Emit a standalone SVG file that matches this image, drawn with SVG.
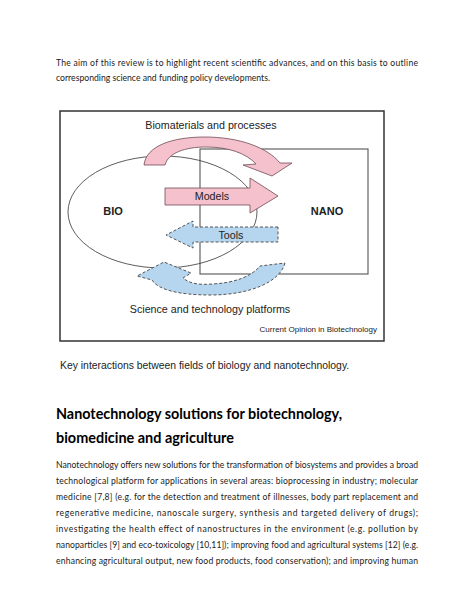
<svg xmlns="http://www.w3.org/2000/svg" width="474" height="613" viewBox="0 0 474 613">
<style>
.doc{font-family:Lato,"Open Sans","Liberation Sans",sans-serif;fill:#1a1a1a;font-size:8.6px}
.hd{font-family:Lato,"Open Sans","Liberation Sans",sans-serif;font-weight:bold;fill:#000;font-size:14.5px}
.fig{font-family:"Liberation Sans",Arial,sans-serif;fill:#222}
.lbl{font-size:10.7px}
.node{font-size:11px;font-weight:bold}
.pink{fill:#f4c1cc;stroke:#6e4b55;stroke-width:0.8}
.blue{fill:#b6d5ee;stroke:#555;stroke-width:1;stroke-dasharray:3 2}
</style>
<rect width="474" height="613" fill="#fff"/>
<g id="intro">
<text class="doc" x="56" y="65.5" textLength="362" lengthAdjust="spacing">The aim of this review is to highlight recent scientific advances, and on this basis to outline</text>
<text class="doc" x="56" y="81" textLength="214" lengthAdjust="spacingAndGlyphs">corresponding science and funding policy developments.</text>
</g>
<g id="frame">
<rect x="60" y="111" width="324" height="230" fill="none" stroke="#333" stroke-width="1.5"/>
</g>
<g id="nano">
<rect x="200" y="149" width="168" height="125" fill="none" stroke="#555" stroke-width="1.1"/>
<text class="fig node" x="327" y="215" text-anchor="middle">NANO</text>
</g>
<g id="bio">
<ellipse cx="162.5" cy="212" rx="94.5" ry="56" fill="none" stroke="#333" stroke-width="0.8"/>
<text class="fig node" x="113" y="215" text-anchor="middle">BIO</text>
</g>
<g id="connectors">
<g id="biomaterials">
<path class="pink" d="M144,165 C146,146 172,137 205,137 C240,137 268,148 280,163 L292,163 L272,176 L243,165 L256,164 C246,153 228,147 206,147 C185,147 168,153 165,165 Z"/>
<text class="fig lbl" x="211" y="129" text-anchor="middle">Biomaterials and processes</text>
</g>
<g id="models">
<polygon class="pink" points="165,188 250,188 250,178 278,196 250,213 250,205 165,205"/>
<text class="fig lbl" x="212" y="200" text-anchor="middle">Models</text>
</g>
<g id="tools">
<polygon class="blue" points="278,227 193,227 193,221 166,235 193,248 193,242 278,242"/>
<text class="fig lbl" x="231" y="238.5" text-anchor="middle">Tools</text>
</g>
<g id="platforms">
<path class="blue" d="M285,263 C280,282 250,295 210,295 C180,295 158,290 152,280 L137,276 L164,262 L191,273 L183,278 C190,284 200,285 212,284 C235,283 252,276 260,266 Z"/>
<text class="fig lbl" x="210" y="313" text-anchor="middle">Science and technology platforms</text>
</g>
</g>
<text class="fig" x="377" y="332" text-anchor="end" font-size="8">Current Opinion in Biotechnology</text>
<text class="fig" x="60" y="368.5" font-size="10.4" fill="#222">Key interactions between fields of biology and nanotechnology.</text>
<g id="section">
<text class="hd" x="56" y="418.5" textLength="286" lengthAdjust="spacingAndGlyphs">Nanotechnology solutions for biotechnology,</text>
<text class="hd" x="56" y="442.5" textLength="178" lengthAdjust="spacingAndGlyphs">biomedicine and agriculture</text>
<text class="doc" x="56" y="468" textLength="362" lengthAdjust="spacing">Nanotechnology offers new solutions for the transformation of biosystems and provides a broad</text>
<text class="doc" x="56" y="484" textLength="362" lengthAdjust="spacing">technological platform for applications in several areas: bioprocessing in industry; molecular</text>
<text class="doc" x="56" y="500" textLength="362" lengthAdjust="spacing">medicine [7,8] (e.g. for the detection and treatment of illnesses, body part replacement and</text>
<text class="doc" x="56" y="516" textLength="362" lengthAdjust="spacing">regenerative medicine, nanoscale surgery, synthesis and targeted delivery of drugs);</text>
<text class="doc" x="56" y="532" textLength="362" lengthAdjust="spacing">investigating the health effect of nanostructures in the environment (e.g. pollution by</text>
<text class="doc" x="56" y="548" textLength="362" lengthAdjust="spacing">nanoparticles [9] and eco-toxicology [10,11]); improving food and agricultural systems [12] (e.g.</text>
<text class="doc" x="56" y="564" textLength="362" lengthAdjust="spacing">enhancing agricultural output, new food products, food conservation); and improving human</text>
</g>
</svg>
